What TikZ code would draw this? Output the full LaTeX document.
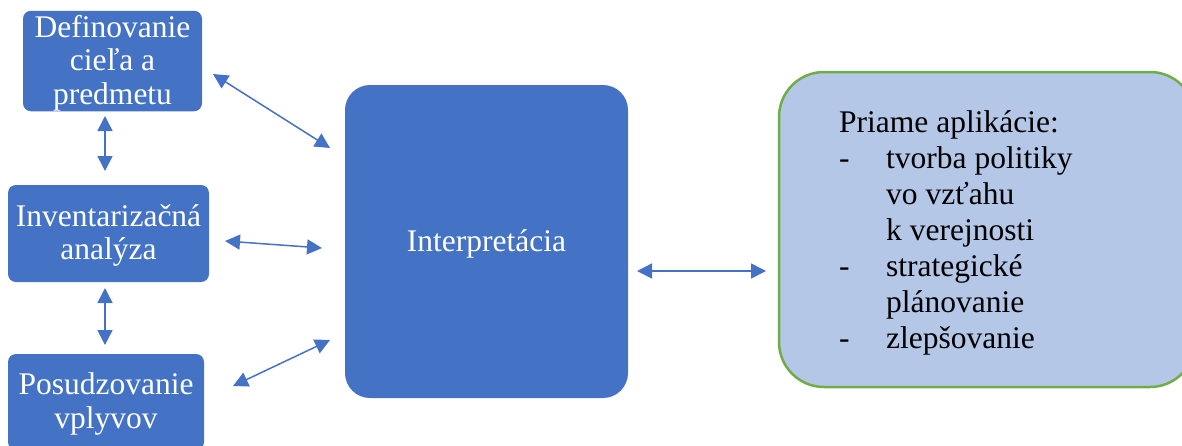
\documentclass[tikz,border=0pt]{standalone}
\usepackage{fontspec}
\setmainfont{Liberation Serif}
\usetikzlibrary{arrows.meta}
\definecolor{bbox}{HTML}{4472C4}
\definecolor{lbox}{HTML}{B4C7E7}
\definecolor{gline}{HTML}{70AD47}
\newcommand{\lowered}[1]{\raisebox{-3pt}[\height][\depth]{\begin{tabular}{@{}c@{}}#1\end{tabular}}}
\begin{document}
\begin{tikzpicture}[x=1pt,y=-1pt,
  bluebox/.style={fill=bbox, draw=none, rounded corners=8pt, text=white, align=center,
    font=\fontsize{31.5}{33.5}\selectfont, inner sep=0pt},
  conn/.style={draw=bbox, line width=1.5pt,
    {Triangle[length=15pt,width=15pt]}-{Triangle[length=15pt,width=15pt]}},
  listtext/.style={align=left, inner sep=0pt, anchor=north west,
    font=\fontsize{31.5}{36}\selectfont}]
\useasboundingbox (0,0) rectangle (1182,445);
\clip (0,0) rectangle (1182,445);
\node[bluebox, minimum width=179pt, minimum height=100pt] (def) at (112.5,61) {\lowered{Definovanie\\cieľa a\\predmetu}};
\node[bluebox, minimum width=201pt, minimum height=97pt] (inv) at (108.5,233.5) {\lowered{Inventarizačná\\analýza}};
\node[bluebox, minimum width=196pt, minimum height=96pt] (pos) at (106,402) {\lowered{Posudzovanie\\vplyvov}};
\node[bluebox, rounded corners=25pt, minimum width=283pt, minimum height=313pt] (int) at (486.5,241.5) {\lowered{Interpretácia}};
\node[fill=lbox, draw=gline, line width=2.5pt, rounded corners=45pt, minimum width=416pt, minimum height=315pt, inner sep=0pt] (app) at (987,229.5) {};
\node[listtext] (apptext) at (839,110) {Priame aplikácie:\\
\makebox[47pt][l]{-}tvorba politiky\\
\hspace*{47pt}vo vzťahu\\
\hspace*{47pt}k verejnosti\\
\makebox[47pt][l]{-}strategické\\
\hspace*{47pt}plánovanie\\
\makebox[47pt][l]{-}zlepšovanie};
\coordinate (a1s) at (213,74);  \coordinate (a1e) at (330,148);
\coordinate (a2s) at (105,116); \coordinate (a2e) at (105,171);
\coordinate (a3s) at (225,241); \coordinate (a3e) at (322,248);
\coordinate (a4s) at (105,288); \coordinate (a4e) at (105,345);
\coordinate (a5s) at (233,386); \coordinate (a5e) at (330,340);
\coordinate (a6s) at (637,271); \coordinate (a6e) at (766,271);
\draw[conn] (a1s) -- (a1e);
\draw[conn] (a2s) -- (a2e);
\draw[conn] (a3s) -- (a3e);
\draw[conn] (a4s) -- (a4e);
\draw[conn] (a5s) -- (a5e);
\draw[conn] (a6s) -- (a6e);
\end{tikzpicture}
\end{document}
